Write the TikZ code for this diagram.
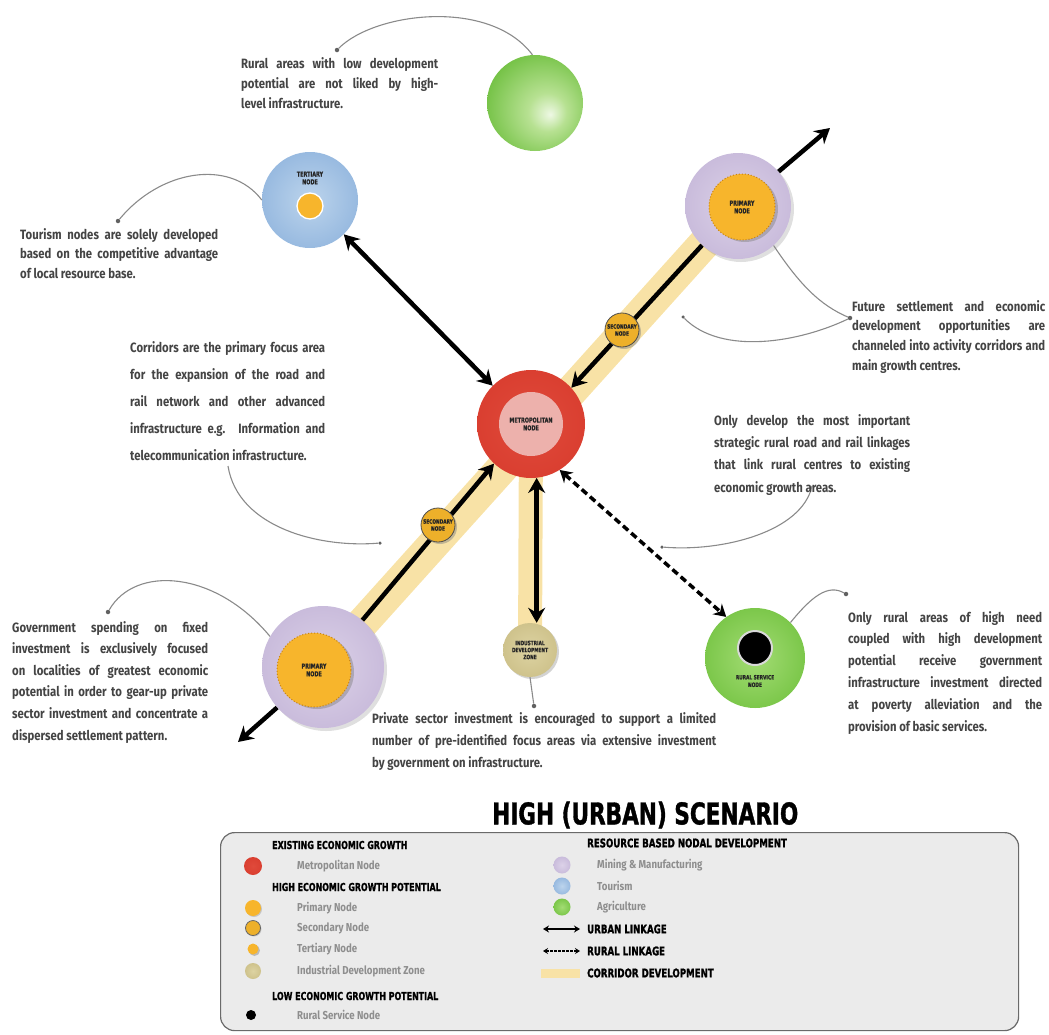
\documentclass[tikz,border=0pt]{standalone}
\usepackage{fontspec}
\usepackage{graphicx}
\usetikzlibrary{arrows.meta,shadows}
\newfontfamily\bodyfont[FakeStretch=0.84]{Fira Sans}
\newfontfamily\headfont[FakeStretch=0.72,FakeBold=1.2]{DejaVu Sans}

\definecolor{corridor}{HTML}{F8E2A6}
\definecolor{bodygray}{HTML}{444444}
\definecolor{callgray}{HTML}{8A8A8A}
\definecolor{legfill}{HTML}{EBEBEB}
\definecolor{legedge}{HTML}{6A6A6A}
\definecolor{legsub}{HTML}{8E8E8E}
\definecolor{yellowC}{HTML}{F7B52C}
\definecolor{yellowD}{HTML}{C9830F}
\definecolor{secC}{HTML}{EDB02A}
\definecolor{pinkC}{HTML}{EDB1AC}
% ball colours
\definecolor{agA}{HTML}{EEF8E4}\definecolor{agB}{HTML}{B7E192}
\definecolor{agC}{HTML}{6CBE3C}\definecolor{agD}{HTML}{3F991B}
\definecolor{blA}{HTML}{BCD4EC}\definecolor{blB}{HTML}{98BAE0}
\definecolor{blC}{HTML}{719CCD}\definecolor{blD}{HTML}{4A7DB8}
\definecolor{puA}{HTML}{DCD2E8}\definecolor{puB}{HTML}{C7B9DA}
\definecolor{puC}{HTML}{B09FC8}\definecolor{puD}{HTML}{9883B2}
\definecolor{reA}{HTML}{E04A3B}\definecolor{reB}{HTML}{D6382A}
\definecolor{reC}{HTML}{B72A1E}
\definecolor{rgA}{HTML}{A3DC74}\definecolor{rgB}{HTML}{74C342}
\definecolor{rgC}{HTML}{4A9F26}
\definecolor{inA}{HTML}{DDD3A2}\definecolor{inB}{HTML}{C8BB82}
\definecolor{inC}{HTML}{A59860}

\pgfdeclareradialshading{agriball}{\pgfpoint{8bp}{-6bp}}{color(0bp)=(agA);color(10bp)=(agB);color(32bp)=(agC);color(50bp)=(agD)}
\pgfdeclareradialshading{blueball}{\pgfpoint{0bp}{0bp}}{color(0bp)=(blA);color(25bp)=(blB);color(42bp)=(blC);color(50bp)=(blD)}
\pgfdeclareradialshading{purpleball}{\pgfpoint{0bp}{0bp}}{color(0bp)=(puA);color(28bp)=(puB);color(44bp)=(puC);color(50bp)=(puD)}
\pgfdeclareradialshading{redball}{\pgfpoint{0bp}{0bp}}{color(0bp)=(reA);color(40bp)=(reB);color(50bp)=(reC)}
\pgfdeclareradialshading{ruralball}{\pgfpoint{0bp}{0bp}}{color(0bp)=(rgA);color(30bp)=(rgB);color(50bp)=(rgC)}
\pgfdeclareradialshading{indball}{\pgfpoint{0bp}{0bp}}{color(0bp)=(inA);color(36bp)=(inB);color(50bp)=(inC)}

% one justified text line of a given width (squeezed if it is too long)
\newsavebox\jlinebox
\newcommand\jline[2]{\sbox\jlinebox{#2}%
  \ifdim\wd\jlinebox>#1pt\relax\resizebox{#1pt}{\height}{#2}%
  \else\makebox[#1pt][s]{#2}\fi}

\begin{document}
\begin{tikzpicture}[x=1pt,y=-1pt,
  ball/.style={circle, inner sep=0, shade, shading=#1},
  ynode/.style={circle, inner sep=0, fill=yellowC, draw=yellowD, dotted, line width=1pt,
     drop shadow={opacity=0.45, shadow xshift=3pt, shadow yshift=-2pt}},
  lbl/.style={font=\headfont\bfseries\fontsize{6.8}{7.8}\selectfont, text=black!85, align=center},
  body/.style={font=\bodyfont\bfseries\fontsize{13.5}{#1}\selectfont, text=bodygray,
     align=left, inner sep=0, anchor=north west},
  tipS/.tip={Stealth[length=15pt,width=17pt,inset=5pt]},
  ua/.style={line width=4.5pt, black, tipS-tipS},
  uaend/.style={line width=4.5pt, black, -tipS},
  ra/.style={line width=3.5pt, black, dash pattern=on 7pt off 4pt,
     {Stealth[length=12pt,width=14pt,inset=4pt]}-{Stealth[length=12pt,width=14pt,inset=4pt]}},
  call/.style={draw=callgray, line width=1.1pt},
  dotc/.style={circle, fill=callgray!70!black, inner sep=0, minimum size=4.5pt},
  lh/.style={font=\headfont\bfseries\fontsize{11}{11}\selectfont, text=black, anchor=west, inner sep=0},
  lhr/.style={font=\headfont\bfseries\fontsize{12}{12}\selectfont, text=black, anchor=west, inner sep=0},
  ls/.style={font=\bodyfont\bfseries\fontsize{11.5}{11.5}\selectfont, text=legsub, anchor=west, inner sep=0},
]
\useasboundingbox (0,0) rectangle (1049,1034);

% node centres
\coordinate (cAg) at (535,103);
\coordinate (cTe) at (310,200);
\coordinate (cTR) at (738,206);
\coordinate (cMe) at (531,424);
\coordinate (cS1) at (622,330);
\coordinate (cS2) at (438,525);
\coordinate (cBL) at (323,667);
\coordinate (cIn) at (530,650);
\coordinate (cRu) at (755,658);

% corridor bands
\draw[line width=32pt, draw=corridor] (cBL) -- (cTR);
\draw[line width=24pt, draw=corridor] (cMe) -- (cIn);

% nodes
\node[ball=agriball, minimum size=96pt] (agri) at (cAg) {};

\node[ball=blueball, minimum size=96pt] (tert) at (cTe) {};
\node[circle, inner sep=0, fill=yellowC, draw=white, line width=1.3pt, minimum size=26pt] (tertin) at (310,206) {};
\node[lbl] (tertlbl) at (310,178) {TERTIARY\\NODE};

\node[ball=purpleball, minimum size=106pt,
      drop shadow={opacity=0.25, shadow xshift=3pt, shadow yshift=-3pt}] (ptr) at (cTR) {};
\node[ynode, minimum size=66pt] (ptrin) at (742,207) {};
\node[lbl] (ptrlbl) at (742,207) {PRIMARY\\NODE};

\node[ball=redball, minimum size=108pt] (metro) at (cMe) {};
\node[circle, inner sep=0, fill=pinkC, minimum size=64pt] (metroin) at (cMe) {};
\node[lbl] (metrolbl) at (cMe) {METROPOLITAN\\NODE};

\node[ball=purpleball, minimum size=122pt,
      drop shadow={opacity=0.25, shadow xshift=3pt, shadow yshift=-3pt}] (pbl) at (cBL) {};
\node[ynode, minimum size=74pt] (pblin) at (314,670) {};
\node[lbl] (pbllbl) at (314,670) {PRIMARY\\NODE};

\node[ball=indball, minimum size=54pt,
      drop shadow={opacity=0.35, shadow xshift=2pt, shadow yshift=-2pt}] (ind) at (cIn) {};
\node[lbl, font=\headfont\bfseries\fontsize{6}{7}\selectfont] (indlbl) at (cIn) {INDUSTRIAL\\DEVELOPMENT\\ZONE};

\node[ball=ruralball, minimum size=100pt] (rural) at (cRu) {};
\node[circle, inner sep=0, fill=black, draw=white!85!black, line width=2pt, minimum size=34pt] (ruralin) at (755,648) {};
\node[lbl, font=\headfont\bfseries\fontsize{6}{7.5}\selectfont] (rurallbl) at (755,681) {RURAL SERVICE\\NODE};

% linkages
\coordinate (trEnd) at (830,128);
\coordinate (blEnd) at (238,742);
\draw[uaend] (ptr) -- (trEnd);
\draw[uaend] (ptr) -- (metro.42);
\draw[uaend] (pbl) -- (metro.227);
\draw[uaend] (pbl) -- (blEnd);
\draw[ua] (tert) -- (metro.135);
\draw[ua] (metro.-84) -- (metro.-84 |- ind.north);
\draw[ra] (metro.-58) -- (rural.125);

% secondary nodes on the corridor
\node[circle, inner sep=0, fill=secC, draw=black!70, line width=0.8pt, minimum size=34pt,
      drop shadow={opacity=0.45, shadow xshift=2pt, shadow yshift=-2pt}] (sec1) at (cS1) {};
\node[lbl, font=\headfont\bfseries\fontsize{6}{7}\selectfont] (sec1lbl) at (cS1) {SECONDARY\\NODE};
\node[circle, inner sep=0, fill=secC, draw=black!70, line width=0.8pt, minimum size=34pt,
      drop shadow={opacity=0.45, shadow xshift=2pt, shadow yshift=-2pt}] (sec2) at (cS2) {};
\node[lbl, font=\headfont\bfseries\fontsize{6}{7}\selectfont] (sec2lbl) at (cS2) {SECONDARY\\NODE};

% call-out lines
\node[dotc] (d1) at (337,50) {};
\draw[call] (d1) .. controls (375,12) and (490,-2) .. (agri.93);
\node[dotc] (d2) at (118,221) {};
\draw[call] (d2) .. controls (160,170) and (230,158) .. (tert.west);
\node[dotc] (d3) at (850,318) {};
\draw[call] (d3) .. controls (820,305) and (800,285) .. (ptr.-48);
\node[dotc, minimum size=3.5pt] (d3b) at (683,317) {};
\draw[call] (d3) .. controls (800,342) and (722,356) .. (d3b);
\coordinate (d4s) at (228,466);
\node[dotc, minimum size=3.5pt] (d4) at (380,543) {};
\draw[call] (d4s) .. controls (238,528) and (320,548) .. (d4);
\coordinate (d5s) at (812,486);
\node[dotc, minimum size=3.5pt] (d5) at (662,547) {};
\draw[call] (d5s) .. controls (802,532) and (722,552) .. (d5);
\node[dotc] (d6) at (108,612) {};
\draw[call] (d6) .. controls (135,565) and (215,570) .. (pbl.150);
\node[dotc] (d7) at (534,706) {};
\draw[call] (ind.south) -- (d7);
\node[dotc] (d8) at (846,594) {};
\draw[call] (rural.45) .. controls (812,596) and (828,584) .. (d8);

% descriptive texts
\node[body=20] (tA) at (241,57) {\jline{197}{Rural areas with low development}\\
  \jline{197}{potential are not liked by high-}\\ level infrastructure.};
\node[body=19.5] (tB) at (20,228) {\jline{198}{Tourism nodes are solely developed}\\
  \jline{198}{based on the competitive advantage}\\ of local resource base.};
\node[body=19.7] (tC) at (852,300) {\jline{193}{Future settlement and economic}\\
  \jline{193}{development opportunities are}\\
  \jline{193}{channeled into activity corridors and}\\ main growth centres.};
\node[body=27] (tD) at (130,341) {\jline{195}{Corridors are the primary focus area}\\
  \jline{195}{for the expansion of the road and}\\
  \jline{195}{rail network and other advanced}\\
  \jline{195}{infrastructure e.g. Information and}\\ telecommunication infrastructure.};
\node[body=22.3] (tE) at (714,414) {\jline{196}{Only develop the most important}\\
  \jline{196}{strategic rural road and rail linkages}\\
  \jline{196}{that link rural centres to existing}\\ economic growth areas.};
\node[body=21.6] (tF) at (12,621) {\jline{196}{Government spending on fixed}\\
  \jline{196}{investment is exclusively focused}\\
  \jline{196}{on localities of greatest economic}\\
  \jline{196}{potential in order to gear-up private}\\
  \jline{196}{sector investment and concentrate a}\\ dispersed settlement pattern.};
\node[body=22] (tG) at (372,712) {\jline{344}{Private sector investment is encouraged to support a limited}\\
  \jline{344}{number of pre-identified focus areas via extensive investment}\\
  by government on infrastructure.};
\node[body=21.8] (tH) at (848,611) {\jline{194}{Only rural areas of high need}\\
  \jline{194}{coupled with high development}\\
  \jline{194}{potential receive government}\\
  \jline{194}{infrastructure investment directed}\\
  \jline{194}{at poverty alleviation and the}\\ provision of basic services.};

% title
\node[font=\headfont\bfseries\fontsize{30}{30}\selectfont, anchor=west, inner sep=0] (title) at (492,815) {HIGH (URBAN) SCENARIO};

% legend
\node[draw=legedge, fill=legfill, rounded corners=14pt, line width=1.2pt, inner sep=0,
      minimum width=798pt, minimum height=198pt, anchor=north west] (legend) at (220,832) {};

\node[lh] (lh1) at (272,845) {EXISTING ECONOMIC GROWTH};
\node[ball=redball, minimum size=18pt] (lk1) at (253,866) {};
\node[ls] (ls1) at (297,866) {Metropolitan Node};
\node[lh] (lh2) at (272,887) {HIGH ECONOMIC GROWTH POTENTIAL};
\node[circle, inner sep=0, fill=yellowC, minimum size=16pt, drop shadow={opacity=0.35,shadow xshift=1pt,shadow yshift=-1pt}] (lk2) at (253,908) {};
\node[ls] (ls2) at (297,908) {Primary Node};
\node[circle, inner sep=0, fill=secC, draw=black!60, line width=0.8pt, minimum size=15pt, drop shadow={opacity=0.35,shadow xshift=1pt,shadow yshift=-1pt}] (lk3) at (253,928) {};
\node[ls] (ls3) at (297,928) {Secondary Node};
\node[circle, inner sep=0, fill=yellowC, minimum size=11pt, drop shadow={opacity=0.45,shadow xshift=1.5pt,shadow yshift=-1.5pt}] (lk4) at (253,949) {};
\node[ls] (ls4) at (297,949) {Tertiary Node};
\node[ball=indball, minimum size=16pt] (lk5) at (253,971) {};
\node[ls] (ls5) at (297,971) {Industrial Development Zone};
\node[lh] (lh3) at (272,996) {LOW ECONOMIC GROWTH POTENTIAL};
\node[circle, inner sep=0, fill=black, minimum size=10pt] (lk6) at (251,1015) {};
\node[ls] (ls6) at (297,1015) {Rural Service Node};

\node[lhr] (lh4) at (587,843) {RESOURCE BASED NODAL DEVELOPMENT};
\node[ball=purpleball, minimum size=17pt] (lk7) at (562,865) {};
\node[ls] (ls7) at (597,865) {Mining \& Manufacturing};
\node[ball=blueball, minimum size=17pt] (lk8) at (562,886) {};
\node[ls] (ls8) at (597,886) {Tourism};
\node[ball=ruralball, minimum size=17pt] (lk9) at (562,907) {};
\node[ls] (ls9) at (597,907) {Agriculture};
\coordinate (ua1) at (543,929);
\coordinate (ua2) at (580,929);
\draw[line width=2pt, {Stealth[length=6pt,width=7pt]}-{Stealth[length=6pt,width=7pt]}] (ua1) -- (ua2);
\node[lhr] (lh5) at (587,929) {URBAN LINKAGE};
\coordinate (ra1) at (543,951);
\coordinate (ra2) at (580,951);
\draw[line width=1.5pt, dash pattern=on 2.5pt off 1.5pt, {Stealth[length=5pt,width=6pt]}-{Stealth[length=5pt,width=6pt]}] (ra1) -- (ra2);
\node[lhr] (lh6) at (587,951) {RURAL LINKAGE};
\coordinate (cw1) at (541,973);
\coordinate (cw2) at (580,973);
\draw[line width=9pt, draw=corridor] (cw1) -- (cw2);
\node[lhr] (lh7) at (587,973) {CORRIDOR DEVELOPMENT};
\end{tikzpicture}
\end{document}
